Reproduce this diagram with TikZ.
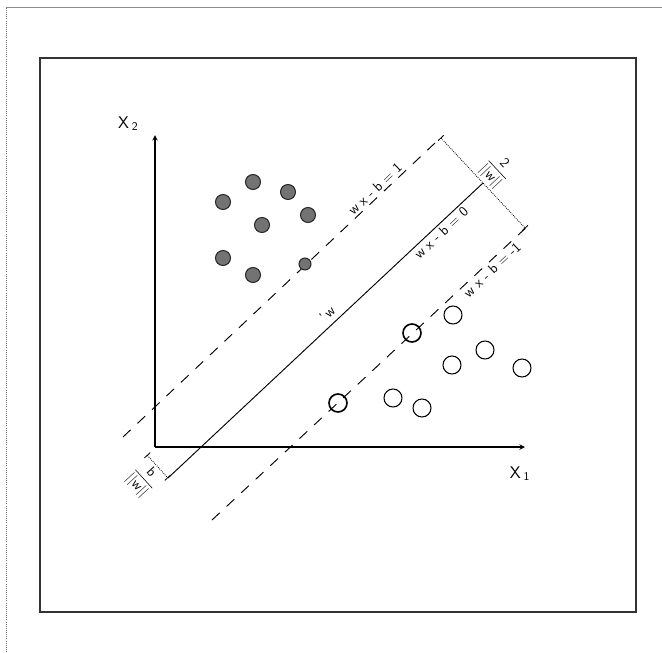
\documentclass[tikz,border=0pt]{standalone}
\usepackage{amsmath,amssymb}
\usepackage{tikz}

\begin{document}
\begin{tikzpicture}[>=stealth, font=\sffamily,
    hyper/.style={line width=0.8pt},
    marginline/.style={hyper, dash pattern=on 9pt off 8pt},
    gap/.style={densely dotted, line width=0.7pt, |-|},
    lbl/.style={sloped, font=\sffamily\large, inner sep=2pt}]
  \useasboundingbox (-4.65,-6.15) rectangle (15.21,13.41);

  % frames
  \draw[black!55, densely dotted, line width=0.8pt] (-4.47,-6.15) -- (-4.47,13.2);
  \draw[black!45, line width=0.8pt] (-4.47,13.2) -- (15.21,13.2);
  \draw[black!80, line width=0.9pt] (-3.45,-4.95) rectangle (14.43,11.67);

  % axes
  \coordinate (O) at (0,0);
  \coordinate (xend) at (11.1,0);
  \coordinate (yend) at (0,9.36);
  \draw[->, line width=1.1pt] (O) -- (xend);
  \draw[->, line width=1.1pt] (O) -- (yend);
  \node[font=\sffamily\Large] (xone) at (10.95,-0.8) {X\,\textsubscript{1}};
  \node[font=\sffamily\Large] (xtwo) at (-0.8,9.7) {X\,\textsubscript{2}};

  % hyperplanes
  \coordinate (U1) at (-0.96,0.30);
  \coordinate (U2) at (8.57,9.28);
  \coordinate (M1) at (0.39,-0.93);
  \coordinate (M2) at (9.84,7.92);
  \coordinate (L1) at (1.71,-2.19);
  \coordinate (L2) at (11.11,6.56);
  \coordinate (T) at (-0.24,-0.24);

  \draw[marginline] (U1) -- node[lbl, above, pos=0.81] (eqone) {w x - b = 1} (U2);
  \draw[hyper] (M1) -- node[lbl, below, pos=0.85] (eqzero) {w x - b = 0}
    node[lbl, above, pos=0.53, inner sep=5pt] (wlab) {'\,w} (M2);
  \draw[marginline] (L1) -- node[lbl, below, pos=0.877] (eqmone) {w x - b = -1} (L2);

  % margin and offset
  \draw[gap] (U2) -- node[lbl, above] (mwidth) {$\dfrac{\textsf{2}}{\textsf{||w||}}$} (L2);
  \draw[gap] (T) -- node[lbl, below] (boff) {$\dfrac{\textsf{b}}{\textsf{||w||}}$} (M1);

  % class one
  \foreach \x/\y in {2.94/7.95, 3.99/7.65, 2.04/7.35, 4.59/6.96, 3.21/6.66, 2.04/5.67, 2.94/5.16}
    \filldraw[fill=black!55, draw=black!85, line width=0.9pt] (\x,\y) circle (0.225);
  \filldraw[fill=black!55, draw=black!85, line width=0.9pt] (4.5,5.49) circle (0.18);

  % class two
  \foreach \x/\y in {8.94/3.96, 9.9/2.91, 8.91/2.46, 11.01/2.37, 7.14/1.47, 8.01/1.17}
    \draw[line width=0.9pt] (\x,\y) circle (0.27);
  \draw[line width=1.4pt] (7.71,3.42) circle (0.27);
  \draw[line width=1.4pt] (5.49,1.32) circle (0.27);
\end{tikzpicture}
\end{document}
